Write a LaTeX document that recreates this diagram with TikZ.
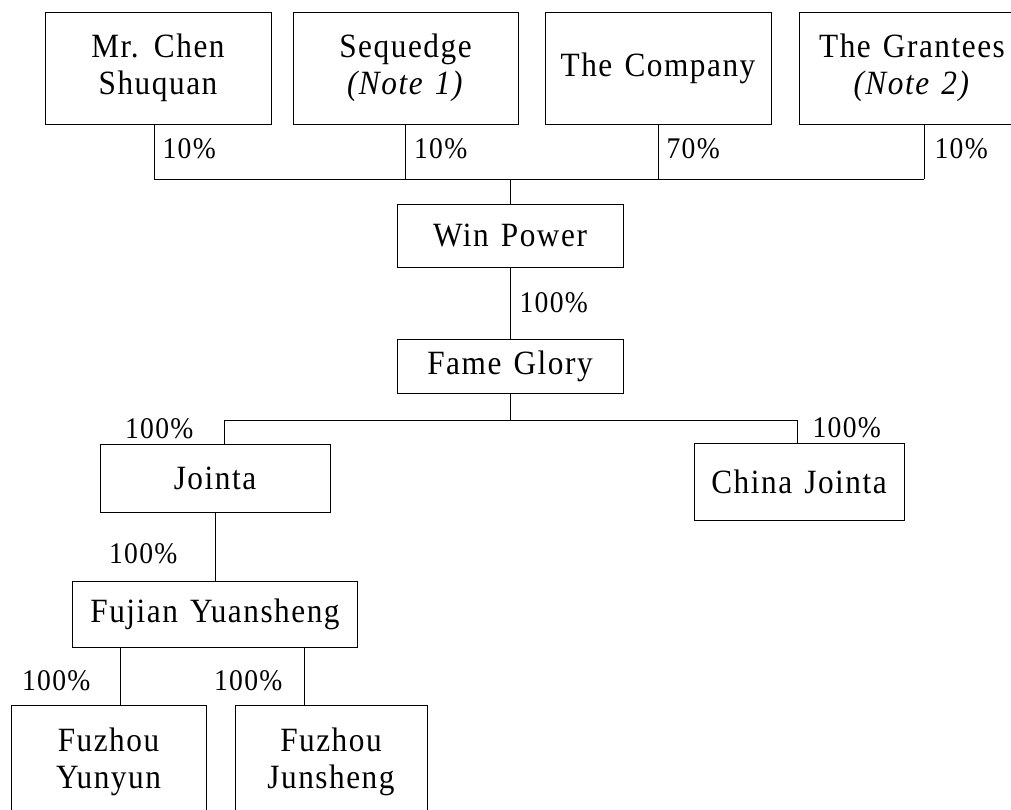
\documentclass[tikz,border=0pt]{standalone}
\usepackage{fontspec}
\setmainfont{Liberation Serif}[FakeStretch=0.92,LetterSpace=4.5,WordSpace=1.3]

\tikzset{
  pct/.style={inner sep=0pt,font=\fontsize{30}{35}\selectfont},
}

\begin{document}
\begin{tikzpicture}[x=1pt,y=-1pt,line width=1pt]

      \useasboundingbox (0,0) rectangle (1011,809);

      \begin{scope}[every node/.style={draw,rectangle,inner sep=0pt,align=center,
          font=\fontsize{34}{37}\selectfont}]
        \node[minimum width=226pt,minimum height=112pt] (1)  at (158,68)  {Mr. Chen\\Shuquan};
        \node[minimum width=225pt,minimum height=112pt] (2)  at (405.5,68)  {Sequedge\\\textit{(Note 1)}};
        \node[minimum width=226pt,minimum height=112pt] (3)  at (658,68)  {The Company};
        \node[minimum width=226pt,minimum height=112pt] (4)  at (912,68)  {The Grantees\\\textit{(Note 2)}};
        \node[minimum width=226pt,minimum height=63pt] (5)  at (510,235.5)  {Win Power};
        \node[minimum width=226pt,minimum height=54pt] (6)  at (510,366)  {Fame Glory};
        \node[minimum width=230pt,minimum height=68pt] (7)  at (215,478)  {Jointa};
        \node[minimum width=210pt,minimum height=77pt] (8)  at (799,481.5)  {China Jointa};
        \node[minimum width=285pt,minimum height=66pt] (9)  at (215,614)  {Fujian Yuansheng};
        \node[minimum width=195pt,minimum height=114pt] (10)  at (108.5,762)  {Fuzhou\\Yunyun};
        \node[minimum width=192pt,minimum height=114pt] (11)  at (331,762)  {Fuzhou\\Junsheng};
      \end{scope}

      \coordinate (t) at (510,179);
      \coordinate (f) at (510,420);
      \coordinate (j) at (224,420);
      \coordinate (c) at (797,420);

      \begin{scope}[every edge/.style={draw}]
        \path ([xshift=-4pt]1.south) edge node[pct,right=8pt,pos=.44] {10\%} ([xshift=-4pt]1.south |- t);
        \path (2.south) edge node[pct,right=8pt,pos=.44] {10\%} (2.south |- t);
        \path (3.south) edge node[pct,right=8pt,pos=.44] {70\%} (3.south |- t);
        \path ([xshift=12pt]4.south) edge node[pct,right=10pt,pos=.44] {10\%} ([xshift=12pt]4.south |- t);
        \path ([xshift=-4pt]1.south |- t) edge ([xshift=12pt]4.south |- t);
        \path (t) edge (5);
        \path (5) edge node[pct,right=9pt] {100\%} (6);
        \path (6) edge (f);
        \path (j) edge (c);
        \path (j) edge node[pct,left=30pt,pos=.35] {100\%} (j |- 7.north);
        \path (c) edge node[pct,right=15pt,pos=.35] {100\%} (c |- 8.north);
        \path (7) edge node[pct,left=37pt,pos=.6] {100\%} (9);
        \path ([xshift=-95pt]9.south) edge node[pct,left=29pt,pos=.59] {100\%} ([xshift=-95pt]9.south |- 10.north);
        \path ([xshift=89pt]9.south) edge node[pct,left=21pt,pos=.59] {100\%} ([xshift=89pt]9.south |- 11.north);
      \end{scope}

    \end{tikzpicture}
\end{document}
